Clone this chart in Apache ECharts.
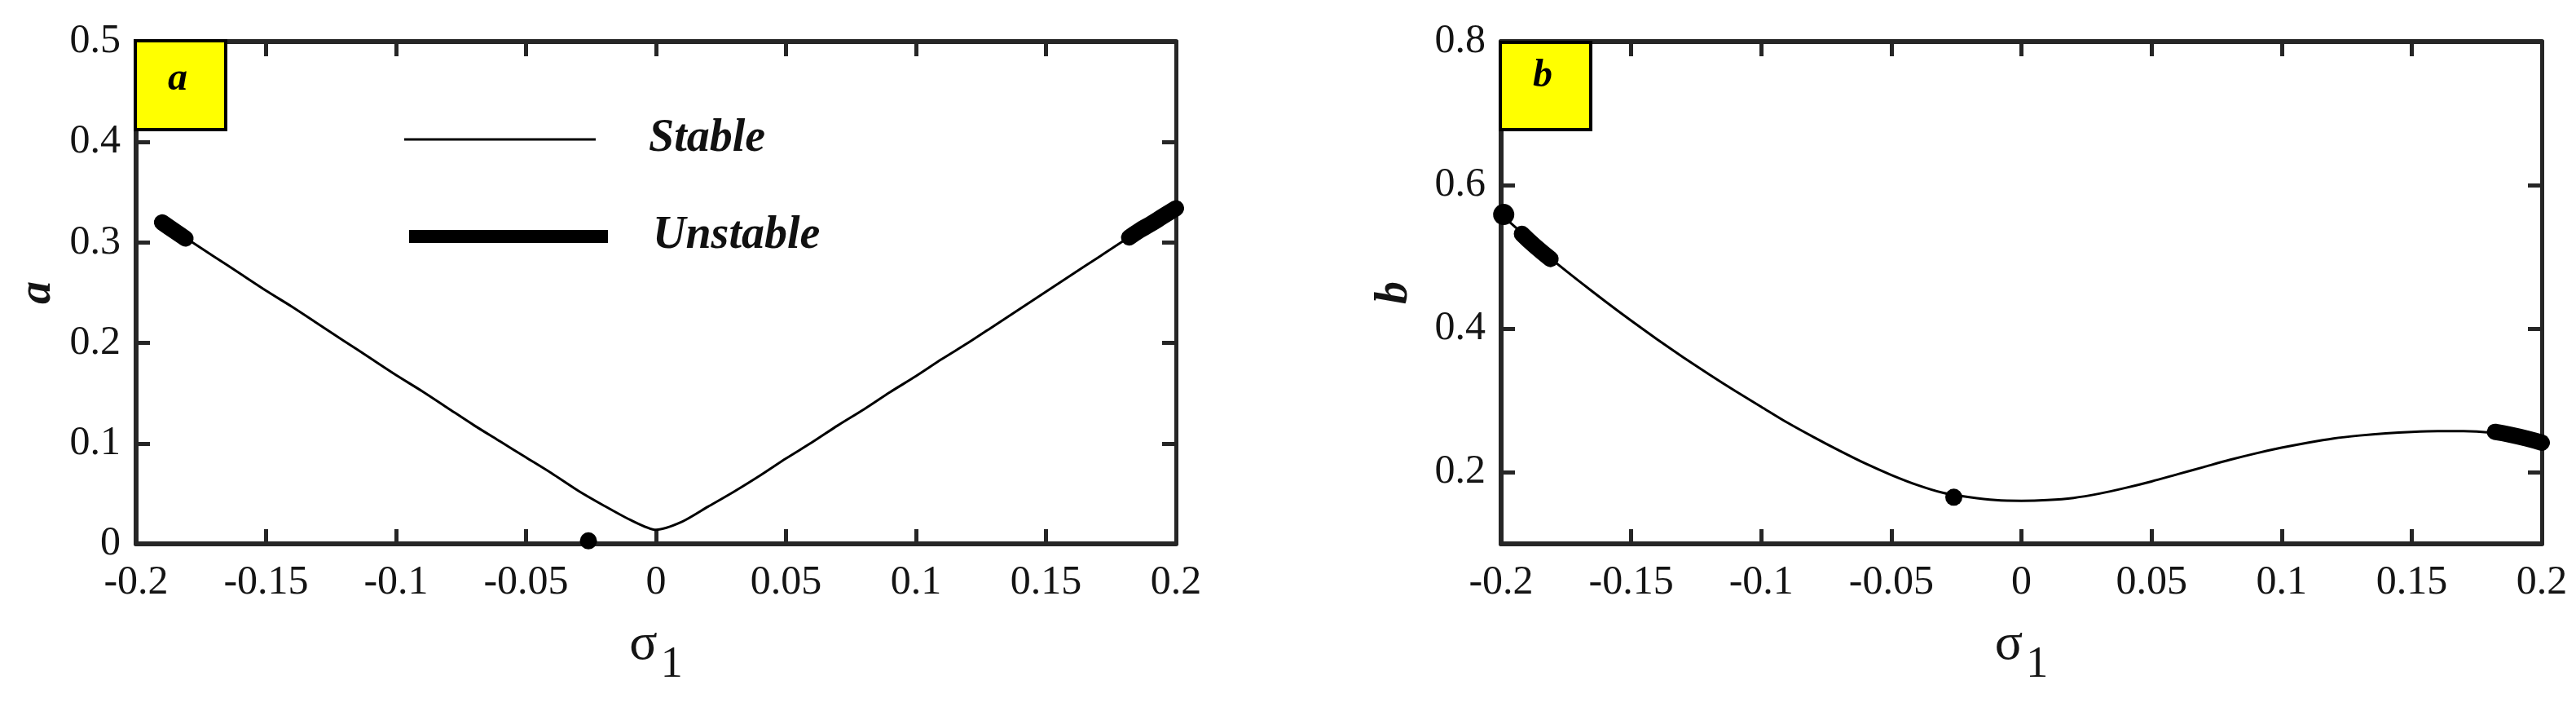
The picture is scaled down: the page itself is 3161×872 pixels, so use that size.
<!DOCTYPE html>
<html>
<head>
<meta charset="utf-8">
<script src="https://cdn.jsdelivr.net/npm/echarts@6/dist/echarts.min.js"></script>
<style>html,body{margin:0;padding:0;background:#fff}#c{width:3161px;height:872px}</style>
</head>
<body>
<div id="c"></div>
<script>
// ---------- data ----------
// Panel a : amplitude a vs sigma1
const sigmaA = [-0.19,-0.18,-0.17,-0.16,-0.15,-0.14,-0.13,-0.12,-0.11,-0.10,-0.09,-0.08,-0.07,-0.06,-0.05,-0.04,-0.03,-0.02,-0.01,0,
                0.01,0.02,0.03,0.04,0.05,0.06,0.07,0.08,0.09,0.10,0.11,0.12,0.13,0.14,0.15,0.16,0.17,0.18,0.19,0.20];
const aStable = [0.320,0.303,0.286,0.269,0.252,0.236,0.219,0.202,0.185,0.168,0.152,0.135,0.118,0.102,0.086,0.070,0.053,0.038,0.024,0.014,
                 0.022,0.037,0.052,0.068,0.085,0.101,0.118,0.134,0.151,0.167,0.184,0.200,0.217,0.234,0.251,0.268,0.285,0.302,0.318,0.334];
const sigmaAUnstL = [-0.19,-0.185,-0.181];
const aUnstL      = [0.320,0.311,0.304];
const sigmaAUnstR = [0.182,0.186,0.190,0.195,0.200];
const aUnstR      = [0.305,0.312,0.318,0.326,0.334];
const aDot = [[-0.026, 0.003]];

// Panel b : amplitude b vs sigma1
const sigmaB = [-0.20,-0.19,-0.18,-0.17,-0.16,-0.15,-0.14,-0.13,-0.12,-0.11,-0.10,-0.09,-0.08,-0.07,-0.06,-0.05,-0.04,-0.03,-0.02,-0.01,0,
                0.01,0.02,0.03,0.04,0.05,0.06,0.07,0.08,0.09,0.10,0.11,0.12,0.13,0.14,0.15,0.16,0.17,0.18,0.19,0.20];
const bStable = [0.559,0.527,0.495,0.466,0.438,0.411,0.385,0.360,0.336,0.313,0.291,0.269,0.249,0.230,0.212,0.196,0.182,0.171,0.165,0.161,0.160,
                 0.161,0.164,0.170,0.178,0.187,0.197,0.207,0.217,0.226,0.234,0.241,0.247,0.251,0.254,0.256,0.257,0.257,0.255,0.249,0.241];
const sigmaBUnstL = [-0.192,-0.187,-0.181];
const bUnstL      = [0.532,0.515,0.497];
const sigmaBUnstR = [0.182,0.188,0.194,0.200];
const bUnstR      = [0.256,0.252,0.247,0.241];
const bDots = [[-0.199, 0.559, 26], [-0.026, 0.165, 21]];

// axis ticks
const xTicksMin = -0.2, xTicksMax = 0.2, xTickStep = 0.05;
const aTicks = [0, 0.5, 0.1];              // min, max, interval
const bTicks = [0.1, 0.8, 0.1];
const bLabelValues = [0.2, 0.4, 0.6, 0.8];
const bTickValues = [0.2, 0.4, 0.6];

const legendNames = ['Stable', 'Unstable'];

// ---------- chart ----------
const FONT = '"Liberation Serif", "Times New Roman", serif';
const AX = '#262626';
const TXT = '#141414';
const zip = (xs, ys) => xs.map((x, i) => [x, ys[i]]);

function xAxisDef(grid, pos, show) {
  return {
    type: 'value', gridIndex: grid, position: pos,
    min: xTicksMin, max: xTicksMax, interval: xTickStep,
    axisLine: {show: true, onZero: false, lineStyle: {color: AX, width: 6}},
    axisTick: {show: true, inside: true, length: 18, lineStyle: {color: AX, width: 5}},
    splitLine: {show: false},
    axisLabel: {show: show, margin: 23, fontFamily: FONT, fontSize: 50, color: TXT},
    name: show ? '{s|σ}{n|1}' : '',
    nameLocation: 'middle', nameGap: 92,
    nameTextStyle: {
      rich: {
        s: {fontFamily: FONT, fontSize: 64, color: TXT, verticalAlign: 'top', lineHeight: 64},
        n: {fontFamily: FONT, fontSize: 54, color: TXT, verticalAlign: 'top', lineHeight: 64, padding: [30, 0, 0, 4]}
      }
    }
  };
}
function yAxisDef(grid, pos, show, rng, name, gap, labelVals, tickVals) {
  const ax = {
    type: 'value', gridIndex: grid, position: pos,
    min: rng[0], max: rng[1], interval: rng[2],
    axisLine: {show: true, onZero: false, lineStyle: {color: AX, width: pos === 'left' ? 6 : 5}},
    axisTick: {show: true, inside: true, length: 17, lineStyle: {color: AX, width: 5}},
    splitLine: {show: false},
    axisLabel: {show: show, margin: 19, fontFamily: FONT, fontSize: 50, color: TXT},
    name: show ? name : '',
    nameLocation: 'middle', nameGap: gap,
    nameTextStyle: {fontFamily: FONT, fontSize: 56, fontStyle: 'italic', fontWeight: 'bold', color: TXT}
  };
  if (labelVals) ax.axisLabel.customValues = labelVals;
  if (tickVals) ax.axisTick.customValues = tickVals;
  return ax;
}
function thin(name, xi, yi, data) {
  return {type: 'line', name: name, xAxisIndex: xi, yAxisIndex: yi, data: data, showSymbol: false, symbol: 'none',
          smooth: 0.25, lineStyle: {color: '#000', width: 3}, itemStyle: {color: '#000'}, z: 3};
}
function thick(name, xi, yi, data) {
  return {type: 'line', name: name, xAxisIndex: xi, yAxisIndex: yi, data: data, showSymbol: false, symbol: 'none',
          smooth: true, lineStyle: {color: '#000', width: 20, cap: 'round', join: 'round'}, itemStyle: {color: '#000'}, z: 4};
}

const chart = echarts.init(document.getElementById('c'), null, {renderer: 'canvas'});
chart.setOption({
  animation: false,
  backgroundColor: '#ffffff',
  grid: [
    {left: 167, right: 1718, top: 51, bottom: 205},
    {left: 1842, right: 42, top: 51, bottom: 205}
  ],
  xAxis: [xAxisDef(0, 'bottom', true), xAxisDef(0, 'top', false), xAxisDef(1, 'bottom', true), xAxisDef(1, 'top', false)],
  yAxis: [
    yAxisDef(0, 'left', true, aTicks, 'a', 92),
    yAxisDef(0, 'right', false, aTicks, ''),
    yAxisDef(1, 'left', true, bTicks, 'b', 102, bLabelValues, bLabelValues),
    yAxisDef(1, 'right', false, bTicks, '', 0, null, bTickValues)
  ],
  legend: [
    {data: [{name: legendNames[0], icon: 'rect', itemStyle: {color: '#000'}}], left: 491, top: 136, itemWidth: 235, itemHeight: 3,
     textStyle: {fontFamily: FONT, fontSize: 56, fontStyle: 'italic', fontWeight: 'bold', color: '#111', padding: [0, 0, 0, 60], lineHeight: 60},
     selectedMode: false},
    {data: [{name: legendNames[1], icon: 'rect', itemStyle: {color: '#000'}}], left: 497, top: 255, itemWidth: 244, itemHeight: 16,
     textStyle: {fontFamily: FONT, fontSize: 56, fontStyle: 'italic', fontWeight: 'bold', color: '#111', padding: [0, 0, 0, 50], lineHeight: 60},
     selectedMode: false}
  ],
  graphic: [
    {type: 'rect', left: 164, top: 48, shape: {width: 111, height: 109}, style: {fill: '#ffff00', stroke: '#000', lineWidth: 4}, z: 10},
    {type: 'text', left: 206, top: 74, style: {text: 'a', font: 'italic bold 48px "Liberation Serif"', fill: '#000'}, z: 11},
    {type: 'rect', left: 1839, top: 50, shape: {width: 111, height: 107}, style: {fill: '#ffff00', stroke: '#000', lineWidth: 4}, z: 10},
    {type: 'text', left: 1881, top: 70, style: {text: 'b', font: 'italic bold 48px "Liberation Serif"', fill: '#000'}, z: 11}
  ],
  series: [
    thin(legendNames[0], 0, 0, zip(sigmaA, aStable)),
    thick(legendNames[1], 0, 0, zip(sigmaAUnstL, aUnstL)),
    thick(legendNames[1], 0, 0, zip(sigmaAUnstR, aUnstR)),
    {type: 'scatter', xAxisIndex: 0, yAxisIndex: 0, data: aDot, symbolSize: 21, itemStyle: {color: '#000', opacity: 1}, z: 5},
    thin(legendNames[0], 2, 2, zip(sigmaB, bStable)),
    thick(legendNames[1], 2, 2, zip(sigmaBUnstL, bUnstL)),
    thick(legendNames[1], 2, 2, zip(sigmaBUnstR, bUnstR)),
    {type: 'scatter', xAxisIndex: 2, yAxisIndex: 2, data: bDots.map(d => [d[0], d[1]]),
     symbolSize: (v, p) => bDots[p.dataIndex][2], itemStyle: {color: '#000', opacity: 1}, z: 5}
  ]
});
</script>
</body>
</html>
